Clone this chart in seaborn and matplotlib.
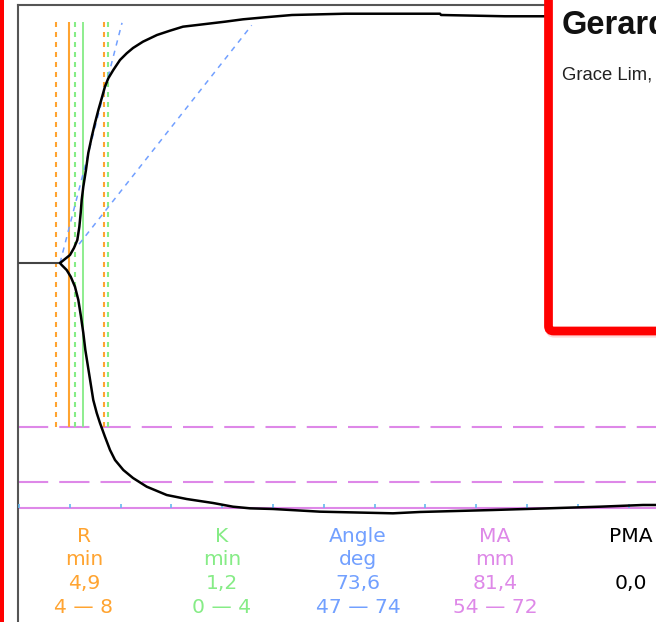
import matplotlib
matplotlib.use("Agg")
import matplotlib.pyplot as plt
import pandas as pd
import seaborn as sns
from matplotlib.patches import FancyBboxPatch, Rectangle

# ---------------- data (time in minutes, amplitude in mm) ----------------
upper_t = [4.04, 4.53, 5.02, 5.41, 5.74, 5.94, 6.07, 6.17, 6.33, 6.59, 6.82,
           7.16, 7.48, 7.81, 8.14, 8.46, 8.79, 9.28, 9.94, 10.60, 11.22,
           12.20, 13.58, 14.86, 16.14, 17.52, 20.28, 22.05, 24.21, 26.87,
           32.09, 41.44, 41.54, 47.83, 51.9, 62.7]
upper_a = [0.0, 0.66, 1.32, 2.47, 3.78, 5.97, 8.22, 10.36, 12.55, 15.30, 18.09,
           20.77, 23.03, 25.16, 27.09, 29.0, 30.38, 31.74, 33.39, 34.49, 35.36,
           36.40, 37.50, 38.21, 38.87, 39.14, 39.69, 40.08, 40.41, 40.79,
           41.0, 41.0, 40.79, 40.58, 40.58, 40.58]
lower_t = [4.04, 4.20, 4.69, 5.09, 5.51, 5.84, 6.10, 6.33, 6.53, 6.92, 7.31,
           7.65, 7.97, 8.46, 8.96, 9.45, 10.27, 11.22, 12.57, 14.54, 16.51,
           19.09, 21.06, 22.74, 25.0, 29.63, 36.81, 39.47, 46.56, 52.07,
           57.19, 61.42, 62.7]
lower_a = [0.0, -0.33, -1.15, -2.25, -3.90, -6.09, -8.83, -11.51, -14.31,
           -18.42, -22.53, -24.67, -26.32, -28.57, -30.76, -32.40, -34.05,
           -35.36, -36.79, -38.16, -38.82, -39.47, -40.08, -40.35, -40.46,
           -40.90, -41.17, -40.95, -40.63, -40.35, -40.08, -39.80, -39.80]
baseline_t = [0.0, 4.04]
baseline_a = [0.0, 0.0]

r_range_lines = [3.64, 8.37]     # orange dashed
r_line = [4.92]                  # orange solid (R)
k_range_lines = [5.51, 8.76]     # green dashed
k_line = [6.30]                  # green solid (R+K)
ref_top, ref_bottom = 39.6, -27.0

angle1_t, angle1_a = [4.04, 10.14], [0.0, 39.5]
angle2_t, angle2_a = [5.91, 22.9], [3.1, 39.1]

ma_range_half = [27.0, 36.0]
ma_line = 40.3
time_ticks = [0, 5, 10, 15, 20, 25, 30, 35, 40, 45, 50, 55, 60]

param_names = ["R", "K", "Angle", "MA", "PMA"]
param_units = ["min", "min", "deg", "mm", ""]
param_values = ["4,9", "1,2", "73,6", "81,4", "0,0"]
param_ranges = ["4 — 8", "0 — 4", "47 — 74", "54 — 72", ""]

title_text = "Gerard"
subtitle_text = "Grace Lim,"

# ---------------- style ----------------
ORANGE = "#FFA431"
GREEN = "#86EC86"
BLUE = "#72A0FF"
PINK = "#DE88E8"
TICKBLUE = "#66B8F0"
param_colors = [ORANGE, GREEN, BLUE, PINK, "black"]

sns.set_style("white")
plt.rcParams["font.family"] = ["DejaVu Sans"]

W, H = 656, 622
fig = plt.figure(figsize=(W / 100, H / 100), dpi=100)
fig.patch.set_facecolor("white")


def px_rect(x0, y0, x1, y1):
    return [x0 / W, 1 - y1 / H, (x1 - x0) / W, (y1 - y0) / H]


ax = fig.add_axes(px_rect(18, 5, W, H))
PXMIN, PXMM, X0, Y0 = 10.16, 6.08, 19, 263
ax.set_xlim((18 - X0) / PXMIN, (W - X0) / PXMIN)
ax.set_ylim((Y0 - H) / PXMM, (Y0 - 5) / PXMM)
ax.set_xticks([])
ax.set_yticks([])
for side in ["right", "bottom"]:
    ax.spines[side].set_visible(False)
for side in ["left", "top"]:
    ax.spines[side].set_color("#555555")
    ax.spines[side].set_linewidth(1.5)

# MA reference lines
for v in ma_range_half:
    ax.axhline(-v, color=PINK, lw=1.5, ls=(0, (14.5, 5.3)), zorder=2)
ax.axhline(-ma_line, color=PINK, lw=1.5, zorder=2)
ax.vlines(time_ticks, -ma_line, -ma_line + 0.6, color=TICKBLUE, lw=1.2, zorder=3)

# R and K reference lines
ax.vlines(r_range_lines, ref_bottom, ref_top, color=ORANGE, lw=1.5,
          linestyles=(0, (2.4, 2.4)), zorder=2)
ax.vlines(r_line, ref_bottom, ref_top, color=ORANGE, lw=1.5, zorder=2)
ax.vlines(k_range_lines, ref_bottom, ref_top, color=GREEN, lw=1.5,
          linestyles=(0, (2.4, 2.4)), zorder=2)
ax.vlines(k_line, ref_bottom, ref_top, color=GREEN, lw=1.3, zorder=2)

# angle lines
for tt, aa in [(angle1_t, angle1_a), (angle2_t, angle2_a)]:
    ax.plot(tt, aa, color=BLUE, lw=1.1, ls=(0, (3.5, 3.5)), zorder=3)

# baseline + tracing
ax.plot(baseline_t, baseline_a, color="#444444", lw=1.5, zorder=4)
df_up = pd.DataFrame({"t": upper_t, "a": upper_a})
df_lo = pd.DataFrame({"t": lower_t, "a": lower_a})
sns.lineplot(data=df_up, x="t", y="a", sort=False, estimator=None,
             color="black", lw=1.8, ax=ax, zorder=5)
sns.lineplot(data=df_lo, x="t", y="a", sort=False, estimator=None,
             color="black", lw=1.8, ax=ax, zorder=5)
ax.set_xlabel("")
ax.set_ylabel("")

# ---------------- overlay (labels, boxes) ----------------
ov = fig.add_axes([0, 0, 1, 1], zorder=10)
ov.set_xlim(0, W)
ov.set_ylim(H, 0)
ov.axis("off")

col_x = [84, 222, 358, 495, 631]
row_y = [542, 565, 589, 613]
for i in range(len(param_names)):
    rows = [param_names[i], param_units[i], param_values[i], param_ranges[i]]
    for txt, yy in zip(rows, row_y):
        if txt:
            ov.text(col_x[i], yy, txt, color=param_colors[i], fontsize=14.6,
                    ha="center", va="baseline", family="DejaVu Sans")

# left red edge
ov.add_patch(Rectangle((-10, -10), 14, H + 20, color="#FF0000", lw=0))

# red-bordered box at top right (with faint shadow)
ov.add_patch(FancyBboxPatch((549.5, -30), 200, 363.5,
                            boxstyle="round,pad=0,rounding_size=5",
                            fc="none", ec="#FF9090", lw=6, alpha=0.35))
ov.add_patch(FancyBboxPatch((548.5, -30), 200, 361,
                            boxstyle="round,pad=0,rounding_size=5",
                            fc="white", ec="#FF0000", lw=6.3))
ov.text(562, 33.5, title_text, fontsize=23.5, fontweight="bold",
        family=["Liberation Sans", "DejaVu Sans"], color="#111111",
        ha="left", va="baseline")
ov.text(562, 80, subtitle_text, fontsize=13.3,
        family=["Liberation Sans", "DejaVu Sans"], color="#222222",
        ha="left", va="baseline")

fig.savefig("out.png", dpi=100, facecolor="white")
